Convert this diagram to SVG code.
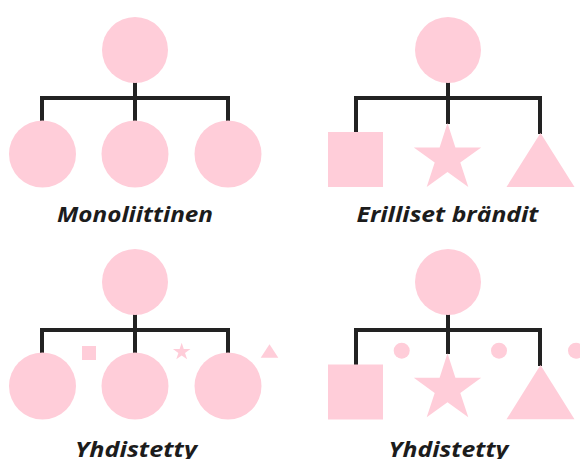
<svg xmlns="http://www.w3.org/2000/svg" width="580" height="459" viewBox="0 0 580 459">
  <defs>
    <style>
      .shape { fill: #ffcdd9; }
      .link { fill: none; stroke: #222; stroke-width: 4; stroke-linecap: butt; stroke-linejoin: miter; }
      .label { font-family: "Open Sans", "Liberation Sans", sans-serif; font-weight: 700; font-style: italic; font-size: 21px; fill: #1c1c1c; text-anchor: middle; }
    </style>
    <polygon id="star" points="0,-35.4 7.9,-10.9 33.7,-10.9 12.8,4.2 20.8,28.6 0,13.5 -20.8,28.6 -12.8,4.2 -33.7,-10.9 -7.9,-10.9"/>
  </defs>
  <rect width="580" height="459" fill="#ffffff"/>

  <!-- connectors -->
  <g id="connectors" class="link">
    <!-- Monoliittinen -->
    <path d="M135,82 V98 M42,121 V98 H228 V123 M135,98 V121"/>
    <!-- Erilliset brändit -->
    <path d="M448,82 V98 M356,133 V98 H540 V134 M448,98 V124"/>
    <!-- Yhdistetty (left) -->
    <path d="M135,314 V330 M42,354 V330 H228 V355 M135,330 V354"/>
    <!-- Yhdistetty (right) -->
    <path d="M448,314 V330 M356,365 V330 H540 V366 M448,330 V354"/>
  </g>

  <!-- Monoliittinen -->
  <g id="mono">
    <circle id="mono-root" class="shape" cx="135" cy="50" r="33"/>
    <circle id="mono-a" class="shape" cx="42.5" cy="154" r="33.5"/>
    <circle id="mono-b" class="shape" cx="135" cy="154" r="33.5"/>
    <circle id="mono-c" class="shape" cx="228" cy="154" r="33.5"/>
    <text class="label" x="135" y="222.3" textLength="156" lengthAdjust="spacingAndGlyphs">Monoliittinen</text>
  </g>

  <!-- Erilliset brändit -->
  <g id="separate">
    <circle id="sep-root" class="shape" cx="448" cy="50" r="33"/>
    <rect id="sep-square" class="shape" x="328" y="132" width="55" height="55"/>
    <use id="sep-star" class="shape" href="#star" x="447.5" y="158.4"/>
    <polygon id="sep-triangle" class="shape" points="540.5,133 574.5,187 506.5,187"/>
    <text class="label" x="447.5" y="222.3" textLength="182" lengthAdjust="spacingAndGlyphs">Erilliset brändit</text>
  </g>

  <!-- Yhdistetty (left) -->
  <g id="hybrid-left">
    <circle id="hl-root" class="shape" cx="135" cy="282" r="33"/>
    <circle id="hl-a" class="shape" cx="42.5" cy="386" r="33.5"/>
    <circle id="hl-b" class="shape" cx="135" cy="386" r="33.5"/>
    <circle id="hl-c" class="shape" cx="228" cy="386" r="33.5"/>
    <rect id="hl-square" class="shape" x="82" y="346" width="14" height="14"/>
    <use id="hl-star" class="shape" href="#star" transform="translate(181.7,351.9) scale(0.26)"/>
    <polygon id="hl-triangle" class="shape" points="269.5,344.3 278.3,357.7 260.7,357.7"/>
    <text class="label" x="136" y="456.5" textLength="122" lengthAdjust="spacingAndGlyphs">Yhdistetty</text>
  </g>

  <!-- Yhdistetty (right) -->
  <g id="hybrid-right">
    <circle id="hr-root" class="shape" cx="448" cy="282" r="33"/>
    <rect id="hr-square" class="shape" x="328" y="364.5" width="55" height="55"/>
    <use id="hr-star" class="shape" href="#star" x="447.5" y="388.7"/>
    <polygon id="hr-triangle" class="shape" points="540.5,365 574.5,419.3 506.5,419.3"/>
    <circle id="hr-dot-a" class="shape" cx="401.7" cy="350.7" r="8"/>
    <circle id="hr-dot-b" class="shape" cx="499" cy="350.7" r="8"/>
    <circle id="hr-dot-c" class="shape" cx="576" cy="350.7" r="8"/>
    <text class="label" x="448.5" y="456.5" textLength="120" lengthAdjust="spacingAndGlyphs">Yhdistetty</text>
  </g>
</svg>
